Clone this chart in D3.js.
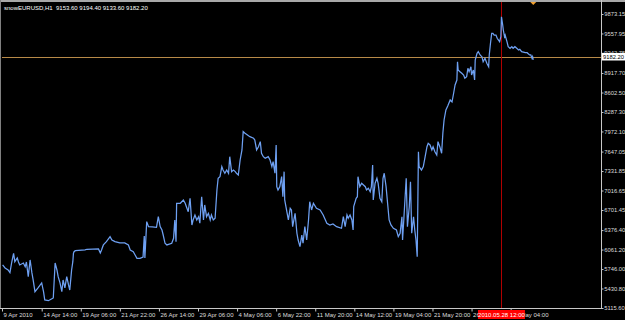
<!DOCTYPE html>
<html><head><meta charset="utf-8">
<script src="https://cdn.jsdelivr.net/npm/d3@7"></script>
<style>
html,body{margin:0;padding:0;background:#000;overflow:hidden;}
svg{display:block;}
text{font-family:"Liberation Sans",Arial,sans-serif;}
</style></head><body>
<svg id="c" width="625" height="320"></svg>
<script>
const symbolName = "snowEURUSD,H1";
const ohlc = ["9153.60", "9194.40", "9133.60", "9182.20"];
const currentPrice = 9182.20;
const markerBar = 818;
const markerLabel = "2010.05.28 12:00";
const arrowBar = 870;
const totalBars = 981;

const bars = [1,5,10,13,16,19,21,25,27,29,35,38,40,43,46,49,51,54,59,65,68,70,76,81,84,87,90,92,95,98,100,103,106,109,111,114,116,117,118,120,136,139,158,161,163,166,171,177,180,185,193,201,207,210,215,218,221,226,231,233,234,237,240,246,253,256,259,262,264,267,270,278,281,283,285,286,292,297,300,302,305,308,311,313,316,319,322,324,327,330,332,335,338,341,343,346,349,352,354,357,360,362,365,368,371,373,376,379,382,384,387,390,393,395,398,406,412,414,417,420,423,425,428,431,436,439,442,444,447,449,450,452,455,458,460,462,463,466,469,472,474,476,480,483,485,488,491,493,496,499,502,504,507,510,515,521,526,532,537,542,548,556,559,562,565,567,570,573,575,576,580,582,583,586,589,592,595,597,600,603,605,607,608,611,614,616,619,622,624,626,629,631,634,637,641,646,649,652,655,656,658,662,664,667,669,671,674,676,678,680,682,683,687,690,693,696,698,701,704,706,709,712,714,717,720,722,724,727,730,734,737,740,742,745,746,747,750,753,756,758,761,763,765,768,769,772,774,775,778,780,783,786,788,791,794,797,798,800,802,804,806,809,811,815,817,818,820,821,823,824,827,829,832,835,837,840,843,846,848,851,857,860,864,866,868,869,870];

const closes = [5812,5763,5731,5687,5860,6001,5865,5925,5860,5812,5844,5784,5860,5623,5893,5683,5569,5380,5440,5521,5380,5246,5234,5262,5278,5844,5731,5623,5521,5380,5569,5440,5623,5488,5407,5731,5865,6001,6027,6043,6055,6066,6071,6006,6055,6136,6189,6270,6216,6189,6168,6168,6136,6055,6027,5974,5920,5920,5941,6281,5925,6513,6432,6427,6422,6593,6432,6378,6297,6163,6136,6163,6244,6540,6189,6810,6810,6864,6810,6755,6674,6891,6459,6540,6621,6540,6593,6487,6917,6540,6783,6593,6648,6540,6621,6540,6568,7025,7215,7241,7403,7349,7296,7349,7296,7564,7322,7349,7322,7296,7268,7511,7673,7969,7943,7888,7862,7834,7673,7726,7807,7619,7564,7538,7564,7511,7403,7483,7296,7754,7079,7025,7079,7241,6917,7322,6864,6702,6540,6729,6702,6432,6648,6325,6216,6108,6297,6163,6432,6216,6540,6836,6702,6810,6729,6702,6621,6487,6459,6475,6432,6406,6593,6432,6621,6568,6621,6540,6378,6755,6891,6917,7241,7079,7134,7106,7079,7025,7053,6998,7079,7430,6864,7134,7215,7134,6891,6836,7215,7296,7079,6864,6540,6459,6406,6378,6270,6325,6593,6216,6540,7215,6432,6755,7160,6325,6593,6378,6216,5946,7645,7403,7349,7403,7564,7726,7781,7754,7673,7726,7645,7592,7807,7726,7619,7943,8158,8320,8385,8482,8449,8611,8724,8805,9101,8967,8940,8914,8886,8833,8859,8995,8940,9020,8886,8967,8805,9129,9237,9263,9210,9182,9101,9156,9075,9020,9210,9399,9561,9561,9533,9533,9480,9425,9506,9829,9695,9614,9506,9533,9425,9344,9318,9344,9318,9344,9318,9291,9302,9263,9247,9247,9210,9210,9156,9182,9129];

const yTickValues = [9873.15, 9557.95, 9242.75, 8917.70, 8602.50, 8287.30, 7972.10, 7647.05, 7331.85, 7016.65, 6701.45, 6376.40, 6061.20, 5746.00, 5430.80, 5115.60];
const xTickBars = [0, 65, 129, 193, 257, 321, 385, 449, 513, 577, 641, 705, 769, 833];
const xTickLabels = ["9 Apr 2010", "14 Apr 14:00", "19 Apr 06:00", "21 Apr 22:00", "26 Apr 14:00", "29 Apr 06:00", "4 May 06:00", "6 May 22:00", "11 May 20:00", "14 May 12:00", "19 May 04:00", "21 May 20:00", "26 May 12:00", "31 May 04:00"];

const W = 625, H = 320;
const plot = {left: 2, right: 601, top: 2, bottom: 308};
const svg = d3.select("#c");

const x = d3.scaleLinear().domain([0, totalBars]).range([plot.left, plot.right]);
const y = d3.scaleLinear().domain([5115.60, 9873.15]).range([308, 14]);

svg.append("rect").attr("width", W).attr("height", H).attr("fill", "#000");

svg.append("defs").append("clipPath").attr("id", "pc")
  .append("rect").attr("x", plot.left).attr("y", plot.top)
  .attr("width", plot.right - plot.left).attr("height", plot.bottom - plot.top);

const g = svg.append("g").attr("clip-path", "url(#pc)");

// current price line
g.append("line")
  .attr("x1", plot.left).attr("x2", plot.right)
  .attr("y1", Math.round(y(currentPrice)) + 0.5).attr("y2", Math.round(y(currentPrice)) + 0.5)
  .attr("stroke", "#b88a48").attr("stroke-width", 1);

// marker vertical line
g.append("line")
  .attr("x1", Math.round(x(markerBar)) + 0.5).attr("x2", Math.round(x(markerBar)) + 0.5)
  .attr("y1", plot.top).attr("y2", plot.bottom)
  .attr("stroke", "#b00000").attr("stroke-width", 1).attr("shape-rendering", "crispEdges");

const pts = bars.map((b, i) => [b, closes[i]]);
g.append("path").datum(pts)
  .attr("fill", "none").attr("stroke", "#6ea0f2").attr("stroke-width", 1.25)
  .attr("stroke-linejoin", "miter")
  .attr("d", d3.line().x(d => x(d[0])).y(d => y(d[1])));

// frame
svg.append("rect").attr("x", 0).attr("y", 0).attr("width", W).attr("height", 2).attr("fill", "#a8a8a8");
const frame = svg.append("g").attr("stroke", "#c8c8c8").attr("shape-rendering", "crispEdges");
frame.append("line").attr("x1", 0.5).attr("x2", 0.5).attr("y1", 0).attr("y2", plot.bottom + 0.5).attr("stroke", "#808080");
frame.append("line").attr("x1", plot.right + 0.5).attr("x2", plot.right + 0.5).attr("y1", 0).attr("y2", plot.bottom + 0.5);
frame.append("line").attr("x1", 0).attr("x2", plot.right + 0.5).attr("y1", plot.bottom + 0.5).attr("y2", plot.bottom + 0.5);

// y axis
const yAxis = svg.append("g").attr("transform", `translate(${plot.right + 0.5},0)`)
  .call(d3.axisRight(y).tickValues(yTickValues).tickSize(2).tickPadding(0.8).tickFormat(d3.format(".2f")));
yAxis.select(".domain").remove();
yAxis.selectAll("line").attr("stroke", "#c8c8c8");
yAxis.selectAll("text").attr("fill", "#dddddd").attr("font-size", "5.8px");

// x axis
const xAxis = svg.append("g").attr("transform", `translate(0,${plot.bottom + 0.5})`)
  .call(d3.axisBottom(x).tickValues(xTickBars).tickSize(3).tickPadding(1).tickFormat((d, i) => xTickLabels[i]));
xAxis.select(".domain").remove();
xAxis.selectAll("line").attr("stroke", "#c8c8c8");
xAxis.selectAll("text").attr("fill", "#dddddd").attr("font-size", "6px")
  .attr("text-anchor", "start").attr("dx", "1");

// current price box
const cpY = y(currentPrice);
svg.append("rect").attr("x", plot.right + 1).attr("y", cpY - 3.8).attr("width", 23).attr("height", 7.6).attr("fill", "#ffffff");
svg.append("text").attr("x", plot.right + 2).attr("y", cpY).attr("dy", "0.35em")
  .attr("font-size", "5.8px").attr("fill", "#000").text(d3.format(".2f")(currentPrice));

// marker label at bottom
const mx = x(markerBar);
svg.append("rect").attr("x", mx - 23.5).attr("y", 310).attr("width", 47).attr("height", 9).attr("fill", "#ff0000");
svg.append("text").attr("x", mx).attr("y", 314.5).attr("dy", "0.35em").attr("text-anchor", "middle")
  .attr("font-size", "6px").attr("fill", "#ffffff").text(markerLabel);

// arrow marker at top
const ax = x(arrowBar);
svg.append("path")
  .attr("d", d3.line()([[ax - 3, 2], [ax + 3, 2], [ax, 5]]) + "Z")
  .attr("fill", "#f0a030");

// title
svg.append("text").attr("x", 4).attr("y", 9.5).attr("font-size", "6px").attr("fill", "#ffffff")
  .attr("xml:space", "preserve").style("white-space", "pre")
  .text(symbolName + "  " + ohlc.join(" "));
</script>
</body></html>
